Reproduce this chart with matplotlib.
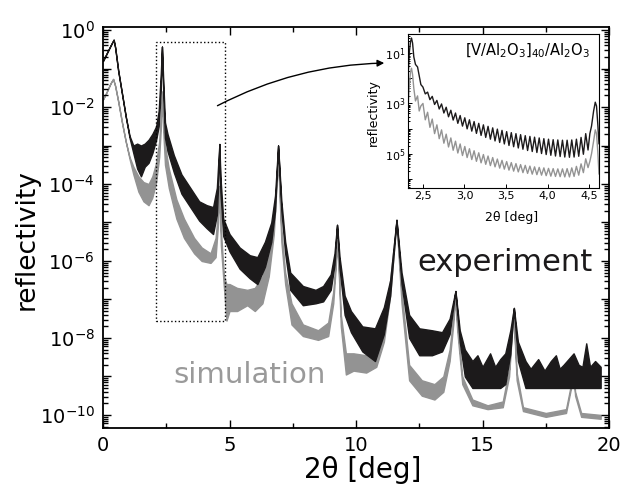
import numpy as np
import matplotlib
matplotlib.use("Agg")
import matplotlib.pyplot as plt
from matplotlib.ticker import FixedLocator, FuncFormatter, LogLocator, NullFormatter, MultipleLocator
from matplotlib.patches import Rectangle, FancyArrowPatch

plt.rcParams['font.family'] = ['DejaVu Sans']
plt.rcParams['mathtext.default'] = 'regular'

# main plot: log10 reflectivity, upper / lower edge of each (noisy / fringed) band
exp_x = [0.00, 0.15, 0.30, 0.42, 0.48, 0.60, 0.75, 0.90, 1.05, 1.20, 1.35, 1.50, 1.65, 1.80, 1.95,
         2.10, 2.20, 2.28, 2.33, 2.38, 2.45, 2.55, 2.80, 3.10, 3.50, 3.80, 4.10, 4.35, 4.50, 4.56,
         4.60, 4.64, 4.75, 5.00, 5.40, 5.80, 6.10, 6.40, 6.65, 6.80, 6.92, 7.05, 7.20, 7.40, 7.90,
         8.40, 8.70, 9.00, 9.15, 9.25, 9.35, 9.55, 9.80, 10.25, 10.75, 11.10, 11.35, 11.60, 11.80, 12.10,
         12.50, 13.00, 13.40, 13.70, 13.93, 14.10,
         14.30, 14.60, 14.80, 15.00, 15.30, 15.50, 15.70, 15.90, 16.10, 16.24, 16.40, 16.70, 16.90, 17.20,
         17.45, 17.70, 17.90, 18.05, 18.20, 18.40, 18.60, 18.80, 18.95, 19.10, 19.25, 19.45, 19.67]
exp_hi = [-0.80, -0.60, -0.40, -0.25, -0.45, -1.05, -1.65, -2.25, -2.75, -3.00, -2.95, -3.00, -2.95, -2.85, -2.70,
          -2.50, -2.10, -1.20, -0.43, -1.30, -2.40, -2.70, -3.25, -3.75, -4.15, -4.45, -4.55, -4.60, -4.10, -3.40,
          -2.96, -3.80, -4.90, -5.30, -5.65, -5.85, -5.90, -5.50, -5.00, -4.30, -3.00, -4.45, -5.50, -6.30, -6.65,
          -6.75, -6.65, -6.35, -5.80, -5.06, -5.90, -6.90, -7.30, -7.70, -7.75, -7.20, -6.50, -4.93, -6.30, -7.40,
          -7.75, -7.80, -7.85, -7.50, -6.78, -7.80,
          -8.30, -8.60, -8.45, -8.75, -8.40, -8.75, -8.55, -8.40, -7.80, -7.22, -8.10, -8.60, -8.80, -8.55,
          -8.85, -8.60, -8.45, -8.80, -8.70, -8.55, -8.40, -8.70, -8.75, -8.14, -8.75, -8.60, -8.75]
exp_lo = [-0.80, -0.60, -0.40, -0.25, -0.45, -1.05, -1.65, -2.25, -2.80, -3.20, -3.60, -3.80, -3.55, -3.45, -3.20,
          -2.85, -2.50, -1.60, -0.43, -1.60, -2.80, -3.15, -3.70, -4.25, -4.65, -4.95, -5.15, -5.30, -4.80, -3.90,
          -2.96, -4.20, -5.35, -5.75, -6.20, -6.45, -6.60, -6.15, -5.50, -4.70, -3.00, -4.70, -5.80, -6.75, -7.15,
          -7.10, -7.05, -6.75, -6.10, -5.06, -6.20, -7.40, -7.85, -8.35, -8.60, -7.90, -6.90, -4.93, -6.60, -8.00,
          -8.45, -8.45, -8.35, -7.90, -6.78, -8.10,
          -9.00, -9.30, -9.30, -9.30, -9.30, -9.30, -9.30, -9.20, -8.40, -7.22, -8.60, -9.30, -9.30, -9.30,
          -9.30, -9.30, -9.30, -9.30, -9.30, -9.30, -9.30, -9.30, -9.30, -9.30, -9.30, -9.30, -9.30]

sim_x = [0.00, 0.15, 0.30, 0.40, 0.48, 0.60, 0.75, 0.90, 1.05, 1.20, 1.40, 1.60, 1.80, 1.95, 2.10,
         2.22, 2.29, 2.34, 2.38, 2.45, 2.60, 2.90, 3.20, 3.60, 3.90, 4.25, 4.45, 4.55, 4.60, 4.66,
         4.78, 4.88, 5.00, 5.30, 5.70, 6.00, 6.30, 6.55, 6.75, 6.92, 7.05, 7.20, 7.45, 7.90, 8.50,
         8.90, 9.10, 9.27, 9.40, 9.60, 9.90, 10.40, 10.80, 11.10, 11.35, 11.60, 11.80, 12.10, 12.60, 13.10,
         13.45, 13.70, 13.85, 13.92, 14.00, 14.20, 14.60, 15.20, 15.80, 16.05, 16.22, 16.35, 16.60, 17.50, 18.30,
         18.50, 18.58, 18.66, 18.90, 19.67]
sim_hi = [-1.80, -1.60, -1.38, -1.27, -1.45, -1.85, -2.40, -2.90, -3.30, -3.55, -3.80, -3.95, -4.00, -3.80, -3.45,
          -2.90, -2.20, -1.60, -2.30, -3.00, -3.60, -4.40, -4.90, -5.40, -5.65, -5.80, -5.40, -4.70, -4.05, -5.20,
          -6.40, -6.60, -6.60, -6.70, -6.75, -6.70, -6.40, -5.80, -4.90, -3.30, -5.20, -6.30, -7.10, -7.65, -7.80,
          -7.60, -6.80, -5.45, -7.40, -8.40, -8.40, -8.45, -8.30, -7.70, -6.50, -4.97, -6.80, -8.70, -9.10, -9.20,
          -9.00, -8.30, -7.40, -6.95, -7.60, -9.00, -9.60, -9.75, -9.65, -8.80, -7.29, -8.90, -9.80, -9.95, -9.85,
          -9.20, -8.75, -9.40, -9.95, -10.00]
sim_lo = [-1.80, -1.60, -1.38, -1.27, -1.45, -1.85, -2.40, -2.90, -3.35, -3.75, -4.20, -4.45, -4.55, -4.35, -3.95,
          -3.30, -2.50, -1.60, -2.60, -3.50, -4.10, -4.90, -5.40, -5.80, -6.00, -6.05, -5.90, -5.00, -4.05, -5.60,
          -6.70, -7.55, -7.30, -7.30, -7.15, -7.30, -7.10, -6.40, -5.30, -3.30, -5.50, -6.60, -7.65, -7.95, -8.05,
          -7.95, -7.10, -5.45, -7.70, -8.95, -8.85, -8.90, -8.75, -8.10, -6.90, -4.97, -7.10, -9.10, -9.50, -9.60,
          -9.40, -8.60, -7.60, -6.95, -7.80, -9.20, -9.75, -9.85, -9.80, -9.00, -7.29, -9.10, -9.90, -10.05, -9.95,
          -9.30, -8.75, -9.50, -10.05, -10.10]

# inset: zoom on the first-order region with Kiessig fringes
ins_x = [2.320, 2.335, 2.350, 2.362, 2.375, 2.390, 2.410, 2.435, 2.455, 2.475,
         2.500, 2.528, 2.556, 2.584, 2.612, 2.640, 2.668, 2.696, 2.724, 2.752, 2.780, 2.808,
         2.836, 2.864, 2.892, 2.920, 2.948, 2.976, 3.004, 3.032, 3.060, 3.088, 3.116, 3.144,
         3.172, 3.200, 3.228, 3.256, 3.284, 3.312, 3.340, 3.368, 3.396, 3.424, 3.452, 3.480,
         3.508, 3.536, 3.564, 3.592, 3.620, 3.648, 3.676, 3.704, 3.732, 3.760, 3.788, 3.816,
         3.844, 3.872, 3.900, 3.928, 3.956, 3.984, 4.012, 4.040, 4.068, 4.096, 4.124, 4.152,
         4.180, 4.208, 4.236, 4.264, 4.292, 4.320, 4.348, 4.376, 4.404, 4.432, 4.460, 4.488,
         4.510, 4.530, 4.555, 4.575, 4.590, 4.605, 4.620]
ins_exp = [-2.05, -1.00, -0.55, -0.40, -0.60, -1.15, -1.45, -1.55, -1.90, -2.25,
           -2.35, -2.62, -2.55, -2.85, -2.72, -3.04, -2.88, -3.22, -3.02, -3.38, -3.15, -3.53,
           -3.27, -3.66, -3.38, -3.79, -3.48, -3.90, -3.57, -4.01, -3.65, -4.10, -3.72, -4.19,
           -3.79, -4.27, -3.85, -4.35, -3.91, -4.42, -3.97, -4.49, -4.02, -4.55, -4.07, -4.61,
           -4.12, -4.67, -4.16, -4.72, -4.20, -4.77, -4.24, -4.82, -4.28, -4.87, -4.31, -4.91,
           -4.34, -4.95, -4.37, -4.99, -4.40, -5.03, -4.42, -5.06, -4.44, -5.09, -4.45, -5.11,
           -4.46, -5.13, -4.46, -5.14, -4.45, -5.13, -4.42, -5.10, -4.35, -5.02, -4.20, -4.85,
           -4.20, -3.90, -3.30, -2.95, -3.10, -3.80, -4.60]
ins_sim = [-3.30, -2.30, -1.75, -1.60, -1.85, -2.40, -2.90, -2.70, -3.30, -3.10,
           -3.00, -3.65, -3.35, -3.95, -3.62, -4.20, -3.85, -4.40, -4.05, -4.58, -4.22, -4.73,
           -4.37, -4.86, -4.50, -4.97, -4.61, -5.07, -4.71, -5.15, -4.80, -5.23, -4.88, -5.30,
           -4.96, -5.36, -5.03, -5.42, -5.09, -5.47, -5.15, -5.52, -5.21, -5.57, -5.26, -5.61,
           -5.31, -5.65, -5.35, -5.69, -5.39, -5.72, -5.43, -5.75, -5.46, -5.78, -5.49, -5.81,
           -5.52, -5.83, -5.54, -5.85, -5.56, -5.87, -5.58, -5.89, -5.59, -5.90, -5.60, -5.91,
           -5.60, -5.92, -5.59, -5.92, -5.56, -5.90, -5.50, -5.85, -5.40, -5.75, -5.20, -5.55,
           -5.30, -5.00, -4.50, -4.05, -4.20, -4.90, -5.80]

BLACK = '#1c1a1b'
GRAY = '#939393'
W, H = 624, 494

fig = plt.figure(figsize=(6.24, 4.94), dpi=100)
ax = fig.add_axes([103 / W, 1 - 428 / H, (609 - 103) / W, (428 - 27) / H])

ax.fill_between(sim_x, 10 ** np.array(sim_lo), 10 ** np.array(sim_hi), color=GRAY, lw=1.0)
ax.fill_between(exp_x, 10 ** np.array(exp_lo), 10 ** np.array(exp_hi), color=BLACK, lw=1.0)

ax.set_yscale('log')
ax.set_xlim(0, 20)
ax.set_ylim(10 ** -10.34, 10 ** 0.08)

ax.xaxis.set_major_locator(MultipleLocator(5))
ax.xaxis.set_minor_locator(MultipleLocator(2.5))
ax.yaxis.set_major_locator(FixedLocator([10.0 ** k for k in range(-10, 1)]))
ax.yaxis.set_major_formatter(FuncFormatter(
    lambda v, p: '$10^{%d}$' % round(np.log10(v)) if round(np.log10(v)) % 2 == 0 else ''))
ax.yaxis.set_minor_locator(LogLocator(base=10, subs=np.arange(2, 10), numticks=30))
ax.yaxis.set_minor_formatter(NullFormatter())
ax.tick_params(which='both', direction='in', top=True, right=True, width=1.0, labelsize=14)
ax.tick_params(which='major', length=6, pad=6)
ax.tick_params(which='minor', length=3.5)
for s in ax.spines.values():
    s.set_linewidth(1.3)

# dotted box marking the inset region
ax.add_patch(Rectangle((2.1, 10 ** -7.55), 4.82 - 2.1, 10 ** -0.31 - 10 ** -7.55,
                       fill=False, ls=':', lw=1.0, ec='black'))

fig.text(27 / W, 1 - 240 / H, 'reflectivity', rotation=90, fontsize=19, ha='center', va='center')
fig.text(363 / W, 1 - 470 / H, '2θ [deg]', fontsize=20, ha='center', va='center')
fig.text(505 / W, 1 - 271 / H, 'experiment', fontsize=22, ha='center', va='baseline', color=BLACK)
fig.text(250 / W, 1 - 383 / H, 'simulation', fontsize=21, ha='center', va='baseline', color='#9a9a9a')

# arrow from box to inset
fig.patches.append(FancyArrowPatch(
    (215 / W, 1 - 107 / H), (387 / W, 1 - 63 / H), transform=fig.transFigure,
    connectionstyle='arc3,rad=-0.12', arrowstyle='-|>', mutation_scale=10, lw=1.0, color='black'))

# inset
axi = fig.add_axes([408 / W, 1 - 188 / H, (599 - 408) / W, (188 - 34) / H])
axi.plot(ins_x, 10 ** np.array(ins_sim), color=GRAY, lw=1.0)
axi.plot(ins_x, 10 ** np.array(ins_exp), color=BLACK, lw=1.0)
axi.set_yscale('log')
axi.set_xlim(2.32, 4.62)
axi.set_ylim(10 ** -6.36, 10 ** -0.24)
axi.set_xticks([2.5, 3.0, 3.5, 4.0, 4.5])
axi.set_xticklabels(['2,5', '3,0', '3,5', '4,0', '4,5'])
axi.yaxis.set_major_locator(FixedLocator([10.0 ** k for k in range(-6, 0)]))
axi.yaxis.set_major_formatter(FuncFormatter(
    lambda v, p: '$10^{%d}$' % -round(np.log10(v)) if round(np.log10(v)) % 2 != 0 else ''))
axi.yaxis.set_minor_locator(LogLocator(base=10, subs=np.arange(2, 10), numticks=30))
axi.yaxis.set_minor_formatter(NullFormatter())
axi.tick_params(which='both', direction='in', labelsize=8, width=0.7, pad=2)
axi.tick_params(which='major', length=3)
axi.tick_params(which='minor', length=1.5)
for s in axi.spines.values():
    s.set_linewidth(0.8)
axi.text(0.30, 0.86, '[V/Al$_2$O$_3$]$_{40}$/Al$_2$O$_3$', transform=axi.transAxes, fontsize=10.5,
         ha='left', va='baseline')
fig.text(373 / W, 1 - 113 / H, 'reflectivity', rotation=90, fontsize=9, ha='center', va='center')
fig.text(512 / W, 1 - 217 / H, '2θ [deg]', fontsize=9, ha='center', va='center')

fig.savefig('out.png', dpi=100)
